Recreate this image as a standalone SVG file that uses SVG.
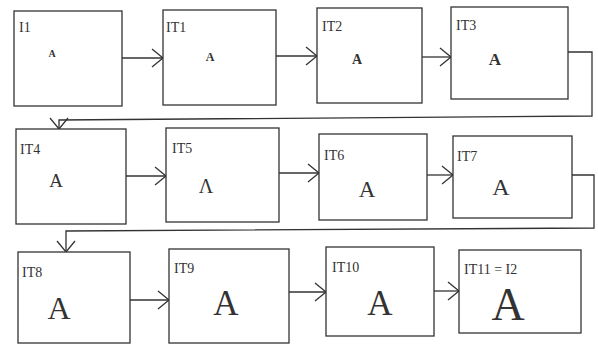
<svg xmlns="http://www.w3.org/2000/svg" width="598" height="344" viewBox="0 0 598 344">
<defs>
<marker id="arr" markerUnits="userSpaceOnUse" markerWidth="24" markerHeight="24" refX="12" refY="12" orient="auto" overflow="visible">
<path d="M1,3 L12,12 L1,21" fill="none" stroke="#333" stroke-width="1.3"/>
</marker>
</defs>
<style>
.box{fill:#fff;stroke:#333;stroke-width:1.3}
.lbl{font-family:"Liberation Serif","DejaVu Serif",serif;font-size:14px;fill:#333}
.a{font-family:"Liberation Serif","DejaVu Serif",serif;fill:#333;text-anchor:middle}
.c{fill:none;stroke:#333;stroke-width:1.3;marker-end:url(#arr)}
</style>
<rect width="598" height="344" fill="#fff"/>
<g id="connectors">
<path class="c" d="M122,58 H163"/>
<path class="c" d="M276,56 H317"/>
<path class="c" d="M422,57 H451"/>
<path class="c" d="M568,52 H592 V116 L59,120 V129"/>
<path class="c" d="M126,176 H166"/>
<path class="c" d="M279,173 H319"/>
<path class="c" d="M427,175 H453"/>
<path class="c" d="M572,175 H594 V228 L66,231 V252"/>
<path class="c" d="M130,300 H169"/>
<path class="c" d="M289,292 H326"/>
<path class="c" d="M434,291 H459"/>
</g>
<g id="I1"><rect class="box" x="14" y="11" width="108" height="95"/><text class="lbl" x="19" y="32">I1</text><text class="a" x="52" y="57" font-size="10" font-weight="bold">A</text></g>
<g id="IT1"><rect class="box" x="163" y="10" width="113" height="95"/><text class="lbl" x="166" y="32">IT1</text><text class="a" x="210" y="61" font-size="12" font-weight="bold">A</text></g>
<g id="IT2"><rect class="box" x="317" y="8" width="105" height="95"/><text class="lbl" x="322" y="31">IT2</text><text class="a" x="357" y="64" font-size="14" font-weight="bold">A</text></g>
<g id="IT3"><rect class="box" x="451" y="7" width="117" height="92"/><text class="lbl" x="456" y="30">IT3</text><text class="a" x="495" y="65" font-size="17" font-weight="bold">A</text></g>
<g id="IT4"><rect class="box" x="16" y="129" width="110" height="95"/><text class="lbl" x="20" y="154">IT4</text><text class="a" x="56" y="187" font-size="19">A</text></g>
<g id="IT5"><rect class="box" x="166" y="128" width="113" height="94"/><text class="lbl" x="172" y="153">IT5</text><text class="a" x="206" y="193" font-size="20">Λ</text></g>
<g id="IT6"><rect class="box" x="319" y="134" width="108" height="86"/><text class="lbl" x="324" y="160">IT6</text><text class="a" x="367" y="197" font-size="23">A</text></g>
<g id="IT7"><rect class="box" x="453" y="136" width="119" height="82"/><text class="lbl" x="457" y="161">IT7</text><text class="a" x="501" y="195" font-size="24">A</text></g>
<g id="IT8"><rect class="box" x="18" y="252" width="112" height="91"/><text class="lbl" x="22" y="277">IT8</text><text class="a" x="59" y="319" font-size="32">A</text></g>
<g id="IT9"><rect class="box" x="169" y="249" width="120" height="94"/><text class="lbl" x="174" y="273">IT9</text><text class="a" x="226" y="315" font-size="35">A</text></g>
<g id="IT10"><rect class="box" x="326" y="247" width="108" height="89"/><text class="lbl" x="332" y="272">IT10</text><text class="a" x="380" y="315" font-size="35">A</text></g>
<g id="IT11"><rect class="box" x="459" y="250" width="122" height="83"/><text class="lbl" x="464" y="274">IT11 = I2</text><text class="a" x="508" y="320" font-size="46">A</text></g>
</svg>
